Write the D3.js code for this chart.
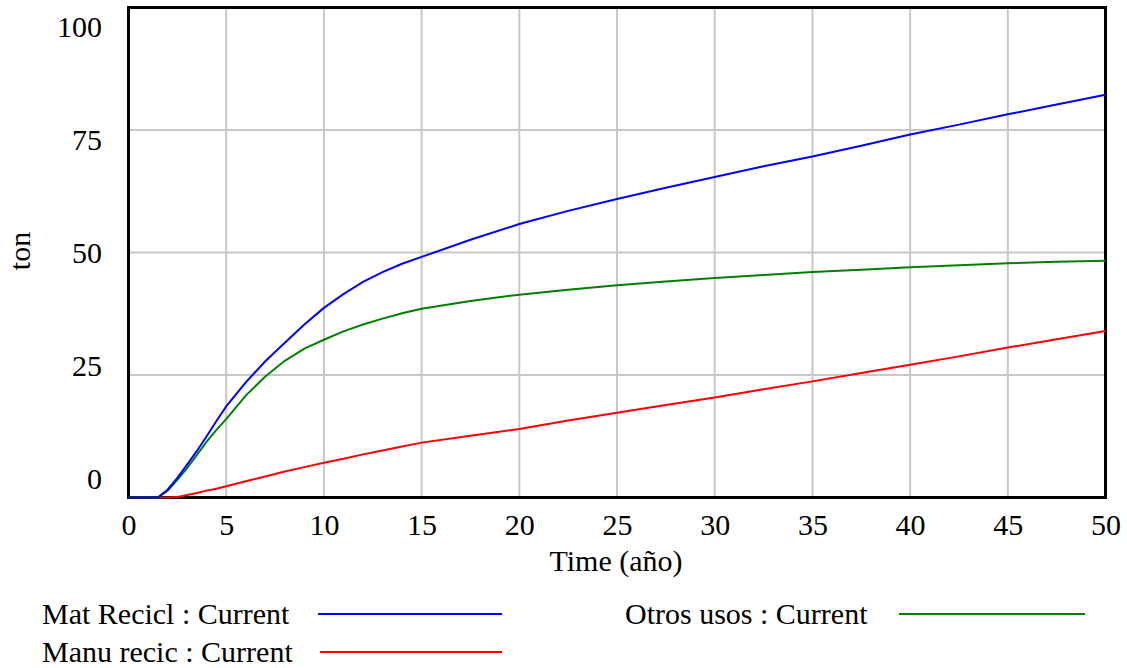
<!DOCTYPE html>
<html>
<head>
<meta charset="utf-8">
<script src="https://cdn.jsdelivr.net/npm/d3@7"></script>
<style>
  body { margin: 0; background: #fff; }
</style>
</head>
<body>
<svg width="1127" height="668"></svg>
<script>
// time axis (años)
var time = [0, 1, 1.5, 2, 2.5, 3, 3.5, 4, 4.5, 5, 6, 7, 8, 9, 10, 11, 12, 13, 14, 15,
  17.5, 20, 22.5, 25, 27.5, 30, 32.5, 35, 37.5, 40, 42.5, 45, 47.5, 50];

var matRecicl = [0, 0, 0, 1.6, 4, 6.7, 9.5, 12.5, 15.6, 18.6, 23.5, 27.8, 31.6, 35.3, 38.7, 41.5, 44, 46, 47.7, 49.1,
  52.6, 55.8, 58.5, 60.9, 63.2, 65.4, 67.6, 69.6, 71.8, 74.1, 76.1, 78.2, 80.2, 82.2];

var otrosUsos = [0, 0, 0, 1.4, 3.6, 6.0, 8.7, 11.4, 13.8, 16.0, 20.8, 24.7, 27.9, 30.4, 32.2, 33.9, 35.3, 36.5, 37.6, 38.5,
  40.1, 41.4, 42.4, 43.3, 44.1, 44.8, 45.4, 46.0, 46.5, 47.0, 47.4, 47.8, 48.1, 48.3];

var manuRecic = [0, 0, 0, 0, 0.1, 0.5, 0.9, 1.4, 1.8, 2.3, 3.3, 4.3, 5.3, 6.2, 7.1, 7.9, 8.8, 9.6, 10.4, 11.2,
  12.6, 14.0, 15.7, 17.3, 18.9, 20.4, 22.1, 23.7, 25.4, 27.1, 28.8, 30.6, 32.3, 34.0];

var xTicks = [0, 5, 10, 15, 20, 25, 30, 35, 40, 45, 50];
var yTicks = [0, 25, 50, 75, 100];

var series = [
  {name: "Mat Recicl : Current", values: matRecicl, color: "#0000ff"},
  {name: "Otros usos : Current", values: otrosUsos, color: "#008000"},
  {name: "Manu recic : Current", values: manuRecic, color: "#ff0000"}
];

var FONT = "'Liberation Serif', 'Times New Roman', 'DejaVu Serif', serif";

var svg = d3.select("svg");
svg.append("rect").attr("width", 1127).attr("height", 668).attr("fill", "#fff");

var x = d3.scaleLinear().domain([0, 50]).range([128.5, 1105.5]);
var y = d3.scaleLinear().domain([0, 100]).range([497.5, 7.5]);
// Vensim spreads the y labels evenly inside the frame
var yLab = d3.scaleLinear().domain([0, 100]).range([479, 27]);

// grid
var grid = svg.append("g");
grid.selectAll(".gx")
  .data(xTicks.slice(1, -1))
  .enter().append("line")
  .attr("x1", d => x(d)).attr("x2", d => x(d))
  .attr("y1", y(100)).attr("y2", y(0))
  .attr("stroke", "#c8c8c8").attr("stroke-width", 2);
grid.selectAll(".gy")
  .data(yTicks.slice(1, -1))
  .enter().append("line")
  .attr("x1", x(0)).attr("x2", x(50))
  .attr("y1", d => y(d)).attr("y2", d => y(d))
  .attr("stroke", "#c8c8c8").attr("stroke-width", 2);

var line = d3.line()
  .x((d, i) => x(time[i]))
  .y(d => y(d));

// frame
svg.append("rect")
  .attr("x", x(0)).attr("y", y(100))
  .attr("width", x(50) - x(0)).attr("height", y(0) - y(100))
  .attr("fill", "none").attr("stroke", "#000").attr("stroke-width", 3);

[series[2], series[1], series[0]].forEach(function(s) {
  svg.append("path")
    .datum(s.values)
    .attr("d", line)
    .attr("fill", "none")
    .attr("stroke", s.color)
    .attr("stroke-width", 2);
});

// axes labels
var xAxis = svg.append("g")
  .attr("transform", "translate(0,525)")
  .call(d3.axisBottom(x).tickValues(xTicks).tickSize(0).tickPadding(0).tickFormat(d3.format("d")));
xAxis.attr("font-family", FONT).attr("font-size", 30);
xAxis.select(".domain").remove();
xAxis.selectAll("text").attr("dy", "0.32em").attr("y", 0).attr("fill", "#000");

var yAxis = svg.append("g")
  .attr("transform", "translate(102,0)")
  .call(d3.axisLeft(yLab).tickValues(yTicks).tickSize(0).tickPadding(0).tickFormat(d3.format("d")));
yAxis.attr("font-family", FONT).attr("font-size", 30);
yAxis.select(".domain").remove();
yAxis.selectAll("text").attr("dy", "0.32em").attr("x", 0).attr("fill", "#000");

svg.append("text")
  .attr("x", 616).attr("y", 571)
  .attr("text-anchor", "middle")
  .attr("font-family", FONT)
  .attr("font-size", 30)
  .text("Time (año)");

svg.append("text")
  .attr("transform", "translate(30,251) rotate(-90)")
  .attr("text-anchor", "middle")
  .attr("font-family", FONT)
  .attr("font-size", 30)
  .text("ton");

// legend
var legend = [
  {s: series[0], tx: 42, ty: 614, x1: 318, x2: 502},
  {s: series[1], tx: 625, ty: 614, x1: 899, x2: 1085},
  {s: series[2], tx: 42, ty: 652, x1: 320, x2: 502}
];
legend.forEach(function(l) {
  svg.append("text")
    .attr("x", l.tx).attr("y", l.ty)
    .attr("dy", "0.33em")
    .attr("font-family", FONT)
    .attr("font-size", 30)
    .text(l.s.name);
  svg.append("line")
    .attr("x1", l.x1).attr("x2", l.x2)
    .attr("y1", l.ty).attr("y2", l.ty)
    .attr("stroke", l.s.color).attr("stroke-width", 2);
});
</script>
</body>
</html>
